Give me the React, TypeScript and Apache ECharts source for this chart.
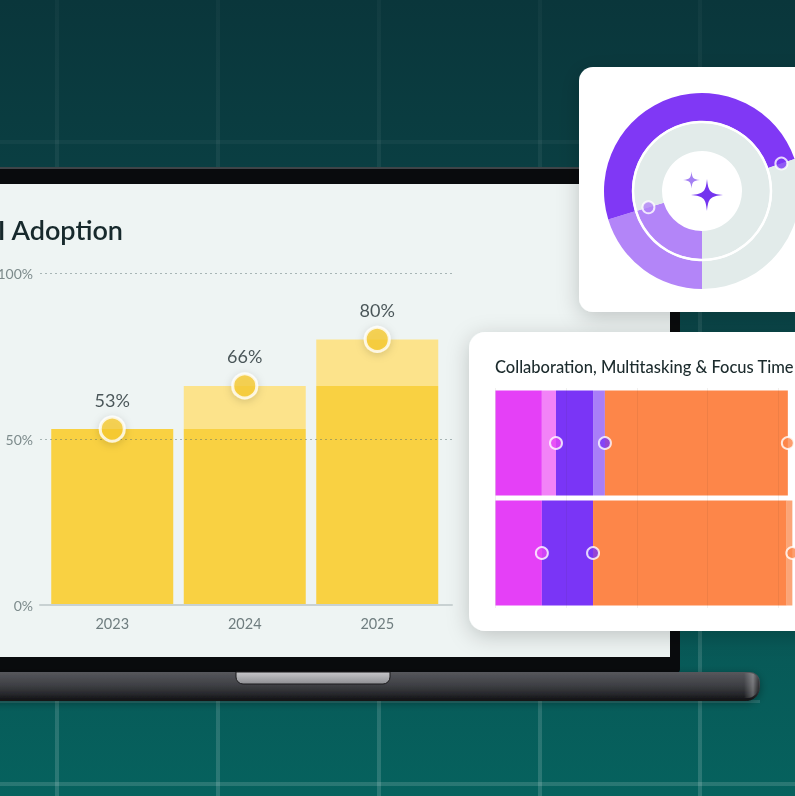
import React, { useEffect, useRef } from 'react';
import * as echarts from 'echarts';

// ---------- data ----------
const years = ['2023', '2024', '2025'];
const adoption = [53, 66, 80];
const yTicks = [0, 50, 100];

const collabRows = ['Current', 'Previous'];
const collabMagenta = [16.4, 16.4];
const collabMagentaGain = [5, 0];
const collabPurple = [13.1, 18.1];
const collabPurpleGain = [4.2, 0];
const collabOrange = [64.7, 68.5];
const collabOrangeGain = [0, 2];
const collabTicks = [0, 25, 50, 75, 100];

const donutOuter = [20.3, 49.4, 30.3];
const donutInner = [20.3, 79.7];

// ---------- styling constants ----------
const FONT = 'Lato, "Noto Sans", sans-serif';
const DONUT_C = [702, 191];
const OUTER_R = [70, 98];
const INNER_R = [40, 68];

const sparkleD =
  'M0,-50 C4,-10 10,-4 50,0 C10,4 4,10 0,50 C-4,10 -10,4 -50,0 C-10,-4 -4,-10 0,-50 Z';
echarts.graphic.registerShape('sparkle', echarts.graphic.extendPath(sparkleD, {}) as any);

const vgrad = (stops: [number, string][]) => ({
  type: 'linear', x: 0, y: 0, x2: 0, y2: 1,
  colorStops: stops.map(([offset, color]) => ({ offset, color })),
});
const hgrad = (stops: [number, string][]) => ({
  type: 'linear', x: 0, y: 0, x2: 1, y2: 0,
  colorStops: stops.map(([offset, color]) => ({ offset, color })),
});

function buildOption() {
  const base = adoption.map((v, i) => (i === 0 ? v : adoption[i - 1]));
  const gain = adoption.map((v, i) => v - base[i]);

  const magEnd = collabMagenta.map((v, i) => v + collabMagentaGain[i]);
  const purEnd = magEnd.map((v, i) => v + collabPurple[i] + collabPurpleGain[i]);
  const oraEnd = purEnd.map((v, i) => v + collabOrange[i] + collabOrangeGain[i]);

  const gridXs = [57, 218, 379, 540, 700];
  const bgLines: any[] = gridXs.map((cx) => ({
    type: 'rect', z: 0.1, silent: true,
    shape: { x: cx - 2, y: 0, width: 4, height: 796 },
    style: { fill: vgrad([[0, 'rgba(255,255,255,0.03)'], [1, 'rgba(255,255,255,0.15)']]) },
  }));
  bgLines.push(
    { type: 'rect', z: 0.1, silent: true, shape: { x: 0, y: 140, width: 795, height: 4 }, style: { fill: 'rgba(255,255,255,0.04)' } },
    { type: 'rect', z: 0.1, silent: true, shape: { x: 0, y: 782, width: 795, height: 4 }, style: { fill: 'rgba(255,255,255,0.14)' } },
  );

  const markerStyle = (color: string) => ({ color, borderColor: '#ffffff', borderWidth: 2 });

  return {
    animation: false,
    textStyle: { fontFamily: FONT },
    graphic: [
      { type: 'rect', z: 0, silent: true, shape: { x: 0, y: 0, width: 795, height: 796 },
        style: { fill: vgrad([[0, '#0a363b'], [0.5, '#0a4a4c'], [1, '#06625e']]) } },
      ...bgLines,
      // laptop lid / bezel
      { type: 'rect', z: 0.2, silent: true, shape: { x: -12, y: 167, width: 692, height: 506, r: [0, 12, 4, 0] },
        style: { fill: '#090b0d' } },
      { type: 'rect', z: 0.21, silent: true, shape: { x: -12, y: 167, width: 690, height: 2 },
        style: { fill: '#3e4448' } },
      // base
      { type: 'rect', z: 0.2, silent: true, shape: { x: 0, y: 700, width: 760, height: 3 },
        style: { fill: 'rgba(255,255,255,0.12)' } },
      { type: 'rect', z: 0.22, silent: true, shape: { x: -12, y: 672, width: 772, height: 29, r: [0, 10, 14, 0] },
        style: { fill: vgrad([[0, '#56575c'], [0.45, '#3f4045'], [0.72, '#2a2b2f'], [1, '#111113']]),
          shadowBlur: 8, shadowColor: 'rgba(0,0,0,0.35)', shadowOffsetY: 2 } },
      { type: 'rect', z: 0.23, silent: true, shape: { x: 744, y: 673, width: 15, height: 25, r: [0, 9, 12, 0] },
        style: { fill: hgrad([[0, 'rgba(255,255,255,0)'], [0.6, 'rgba(255,255,255,0.28)'], [1, 'rgba(0,0,0,0.25)']]) } },
      { type: 'rect', z: 0.24, silent: true, shape: { x: 236, y: 672, width: 154, height: 12, r: [0, 0, 7, 7] },
        style: { fill: vgrad([[0, '#c6c6ca'], [1, '#8e8f93']]), stroke: '#1a1a1c', lineWidth: 1 } },
      // screen
      { type: 'rect', z: 0.3, silent: true, shape: { x: -12, y: 184, width: 682, height: 473 },
        style: { fill: '#eef4f3' } },
      { type: 'text', z: 0.4, silent: true,
        style: { text: 'AI Adoption', x: 123, y: 229, fill: '#17292c', fontSize: 27, fontWeight: 600, fontFamily: FONT,
          align: 'right', textAlign: 'right', verticalAlign: 'middle', textVerticalAlign: 'middle' } },
      // donut card
      { type: 'rect', z: 0.5, silent: true, shape: { x: 579, y: 67, width: 260, height: 245, r: 14 },
        style: { fill: '#ffffff', shadowBlur: 22, shadowColor: 'rgba(0,0,0,0.2)', shadowOffsetY: 5 } },
      // collab card
      { type: 'rect', z: 0.5, silent: true, shape: { x: 469, y: 332, width: 360, height: 299, r: 16 },
        style: { fill: '#ffffff', shadowBlur: 22, shadowColor: 'rgba(0,0,0,0.2)', shadowOffsetY: 5 } },
      { type: 'text', z: 0.6, silent: true,
        style: { text: 'Collaboration, Multitasking & Focus Time', x: 495, y: 367, fill: '#1c2b2d', fontSize: 16.5,
          fontWeight: 500, fontFamily: FONT, align: 'left', textAlign: 'left', verticalAlign: 'middle', textVerticalAlign: 'middle' } },
      // donut overlays
      { type: 'circle', z: 6, silent: true, shape: { cx: DONUT_C[0], cy: DONUT_C[1], r: 69 },
        style: { fill: 'none', stroke: '#ffffff', lineWidth: 2.5 } },
      { type: 'sparkle', z: 6, silent: true, x: 707, y: 195, scaleX: 0.32, scaleY: 0.32, style: { fill: '#7434ef' } },
      { type: 'sparkle', z: 6, silent: true, x: 691.5, y: 180, scaleX: 0.17, scaleY: 0.17, style: { fill: '#a480f3' } },
    ],
    grid: [
      { left: 40, top: 273, width: 412, height: 332, outerBoundsMode: 'none', containLabel: false },
      { left: 46, top: 273, width: 397.5, height: 332, outerBoundsMode: 'none', containLabel: false },
      { left: 495.5, top: 388, width: 311, height: 220, outerBoundsMode: 'none', containLabel: false },
    ],
    polar: { center: DONUT_C, radius: OUTER_R[1] },
    angleAxis: { type: 'value', min: 0, max: 100, startAngle: 270, clockwise: true, show: false },
    radiusAxis: { type: 'value', min: 0, max: OUTER_R[1], show: false },
    xAxis: [
      { gridIndex: 0, type: 'value', min: 0, max: 1, z: 3,
        axisLine: { show: true, onZero: false, lineStyle: { color: '#c8d1d2', width: 2 } },
        axisTick: { show: false }, axisLabel: { show: false }, splitLine: { show: false } },
      { gridIndex: 1, type: 'category', data: years, z: 3,
        axisLine: { show: false }, axisTick: { show: false },
        axisLabel: { color: '#6f7d7f', fontSize: 14.5, margin: 11, fontFamily: FONT } },
      { gridIndex: 2, type: 'value', min: collabTicks[0], max: 110, interval: collabTicks[1] - collabTicks[0], z: 3,
        axisLine: { show: false }, axisTick: { show: false }, axisLabel: { show: false },
        splitLine: { show: true, lineStyle: { color: 'rgba(60,40,30,0.07)', width: 1 } } },
    ],
    yAxis: [
      { gridIndex: 0, type: 'value', min: yTicks[0], max: yTicks[yTicks.length - 1], interval: yTicks[1] - yTicks[0], z: 3,
        axisLine: { show: false }, axisTick: { show: false },
        axisLabel: { formatter: '{value}%', color: '#7d8b8c', fontSize: 14, margin: 7, fontFamily: FONT },
        splitLine: { show: true, showMinLine: false, lineStyle: { type: [2, 3], color: 'rgba(80,105,107,0.45)', width: 1 } } },
      { gridIndex: 1, type: 'value', min: yTicks[0], max: yTicks[yTicks.length - 1], show: false },
      { gridIndex: 2, type: 'category', data: collabRows, inverse: true, show: false },
    ],
    series: [
      { type: 'bar', name: 'Prior year', xAxisIndex: 1, yAxisIndex: 1, stack: 'adopt', barWidth: 122,
        data: base, itemStyle: { color: '#f9d142' }, silent: true },
      { type: 'bar', name: 'Gain', xAxisIndex: 1, yAxisIndex: 1, stack: 'adopt', barWidth: 122,
        data: gain, itemStyle: { color: '#fce38b' }, silent: true },
      { type: 'scatter', name: 'Adoption', xAxisIndex: 1, yAxisIndex: 1, data: adoption, z: 5, symbolSize: 24,
        itemStyle: { color: '#f8cb2e', borderColor: '#ffffff', borderWidth: 3, shadowBlur: 8, shadowColor: 'rgba(0,0,0,0.18)', shadowOffsetY: 2 },
        label: { show: true, position: 'top', distance: 7, formatter: '{c}%', fontSize: 18, color: '#1e2c2f', fontFamily: FONT },
        silent: true },

      ...[
        [collabMagenta, '#e540f7'],
        [collabMagentaGain, '#f283f7'],
        [collabPurple, '#7a35f6'],
        [collabPurpleGain, '#a97ef8'],
        [collabOrange, '#fd8649'],
        [collabOrangeGain, '#fba577'],
      ].map(([d, c]) => ({
        type: 'bar', xAxisIndex: 2, yAxisIndex: 2, stack: 'collab', barWidth: 105,
        data: d, itemStyle: { color: c }, silent: true,
      })),
      { type: 'scatter', xAxisIndex: 2, yAxisIndex: 2, z: 5, symbolSize: 12, silent: true,
        data: magEnd.map((v, i) => [v, i]), itemStyle: markerStyle('#e546f6') },
      { type: 'scatter', xAxisIndex: 2, yAxisIndex: 2, z: 5, symbolSize: 12, silent: true,
        data: purEnd.map((v, i) => [v, i]), itemStyle: markerStyle('#7a35f6') },
      { type: 'scatter', xAxisIndex: 2, yAxisIndex: 2, z: 5, symbolSize: 12, silent: true,
        data: oraEnd.map((v, i) => [v, i]), itemStyle: markerStyle('#fd8649') },

      { type: 'pie', center: DONUT_C, radius: OUTER_R, startAngle: 270, clockwise: true, silent: true,
        label: { show: false }, labelLine: { show: false },
        data: donutOuter.map((v, i) => ({ value: v, itemStyle: { color: ['#b385f8', '#8038f5', '#e2ebea'][i] } })) },
      { type: 'pie', center: DONUT_C, radius: INNER_R, startAngle: 270, clockwise: true, silent: true,
        label: { show: false }, labelLine: { show: false },
        data: donutInner.map((v, i) => ({ value: v, itemStyle: { color: ['#b385f8', '#e2ebea'][i] } })) },
      { type: 'scatter', coordinateSystem: 'polar', z: 7, symbolSize: 12, silent: true,
        data: [[(OUTER_R[0] + OUTER_R[1]) / 2, donutOuter[0] + donutOuter[1]]],
        itemStyle: markerStyle('#7a35f6') },
      { type: 'scatter', coordinateSystem: 'polar', z: 7, symbolSize: 12, silent: true,
        data: [[(INNER_R[0] + INNER_R[1]) / 2 + 2, donutInner[0]]],
        itemStyle: markerStyle('#b385f8') },
    ],
  };
}

export default function App() {
  const ref = useRef<HTMLDivElement>(null);
  useEffect(() => {
    document.body.style.margin = '0';
    const chart = echarts.init(ref.current!, null, { renderer: 'svg' });
    chart.setOption(buildOption() as any);
    return () => chart.dispose();
  }, []);
  return <div ref={ref} style={{ position: 'fixed', left: 0, top: 0, width: 795, height: 796 }} />;
}
